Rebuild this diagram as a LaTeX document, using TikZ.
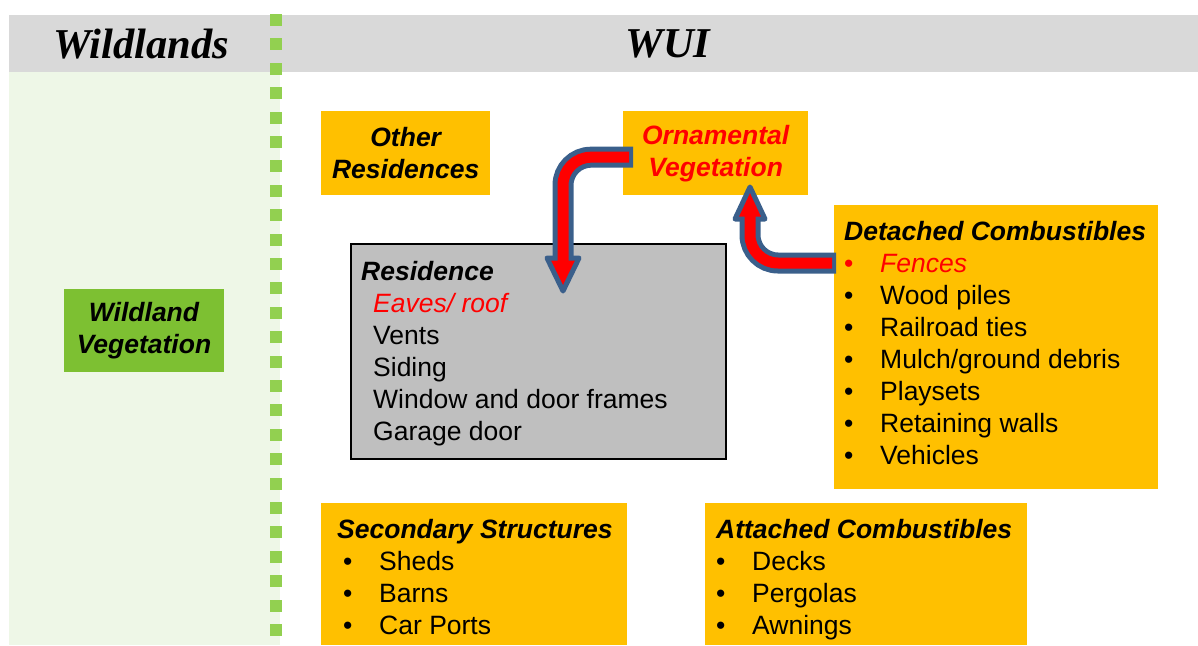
\documentclass[tikz,border=0pt]{standalone}
\usepackage{fontspec}
\setmainfont{Liberation Sans}
\newfontfamily\headfont{Liberation Serif}
\usetikzlibrary{calc}

\definecolor{bandgray}{HTML}{D9D9D9}
\definecolor{wildbg}{HTML}{EEF7E7}
\definecolor{dotgreen}{HTML}{92D050}
\definecolor{vegbox}{HTML}{7DC032}
\definecolor{wuiorange}{HTML}{FFC000}
\definecolor{resgray}{HTML}{BFBFBF}
\definecolor{arrowblue}{HTML}{3A5F8B}
\definecolor{arrowred}{HTML}{FF0000}

\tikzset{
  orangebox/.style={fill=wuiorange, inner sep=0pt, anchor=north west},
  boxfont/.style={font=\fontsize{26.5}{32}\selectfont\bfseries\itshape, align=center},
  listtext/.style={anchor=base west, inner sep=0pt, font=\fontsize{26.5}{32}\selectfont},
  headtext/.style={font=\headfont\fontsize{42.5}{42}\selectfont\bfseries\itshape},
  shaftout/.style={draw=arrowblue, line width=21pt, rounded corners=28pt},
  shaftin/.style={draw=arrowred, line width=11pt, rounded corners=28pt},
  headtri/.style={fill=arrowred, draw=arrowblue, line width=5pt, line join=round},
}
\newcommand\bul[1][0pt]{\hspace*{#1}\makebox[36pt][l]{\textbullet}}

\begin{document}
\begin{tikzpicture}[x=1pt, y={(0,-1pt)}]
			%%%%% START %%%%%
			\useasboundingbox (0,0) rectangle (1198,645);
			
			\fill[bandgray] (9,15) rectangle (1198,72);
			\fill[wildbg] (9,72) rectangle (280,645);
			\foreach \i in {0,...,25}
				\fill[dotgreen] (270,{14+24.4*\i}) rectangle +(12,12);
			
			\node[headtext] (wildlands) at (141,44) {Wildlands};
			\node[headtext] (wui) at (668,44) {WUI};
			
			\node[fill=vegbox, inner sep=0pt, minimum width=160, minimum height=83, boxfont] (wildveg) at (144,330.5) {Wildland\\Vegetation};
			
			\node[orangebox, boxfont, minimum width=169, minimum height=84] (other) at (321,111) {Other\\Residences};
			\node[orangebox, boxfont, minimum width=185, minimum height=84, text=arrowred] (orn) at (623,111) {Ornamental\\Vegetation};
			
			\node[draw=black, line width=1.5pt, fill=resgray, inner sep=0pt, minimum width=375, minimum height=215, anchor=north west] (res) at (350,243) {};
			\node[listtext] (restxt) at (361,280) {\begin{tabular}[t]{@{}l@{}}
				\textbf{\textit{Residence}}\\
				\hspace*{12pt}{\color{arrowred}\itshape Eaves/ roof}\\
				\hspace*{12pt}Vents\\
				\hspace*{12pt}Siding\\
				\hspace*{12pt}Window and door frames\\
				\hspace*{12pt}Garage door
			\end{tabular}};
			
			\node[orangebox, minimum width=324, minimum height=284] (detached) at (834,205) {};
			\node[listtext] (detachedtxt) at (844,240) {\begin{tabular}[t]{@{}l@{}}
				\textbf{\textit{Detached Combustibles}}\\
				{\color{arrowred}\bul\itshape Fences}\\
				\bul Wood piles\\
				\bul Railroad ties\\
				\bul Mulch/ground debris\\
				\bul Playsets\\
				\bul Retaining walls\\
				\bul Vehicles
			\end{tabular}};
			
			\node[orangebox, minimum width=306, minimum height=142] (secondary) at (321,503) {};
			\node[listtext] (secondarytxt) at (337,538) {\begin{tabular}[t]{@{}l@{}}
				\textbf{\textit{Secondary Structures}}\\
				\bul[6pt]Sheds\\
				\bul[6pt]Barns\\
				\bul[6pt]Car Ports
			\end{tabular}};
			
			\node[orangebox, minimum width=322, minimum height=142] (attached) at (705,503) {};
			\node[listtext] (attachedtxt) at (716,538) {\begin{tabular}[t]{@{}l@{}}
				\textbf{\textit{Attached Combustibles}}\\
				\bul Decks\\
				\bul Pergolas\\
				\bul Awnings
			\end{tabular}};
			
			% ornamental vegetation -> residence
			\coordinate (startA) at ($(orn.west)+(10,4)$);
			\coordinate (baseA) at (563,258);
			\coordinate (tipA) at (563,291);
			\draw[shaftout] (startA) -| (baseA);
			\draw[headtri] ($(baseA)+(-16,0)$) -- ($(baseA)+(16,0)$) -- (tipA) -- cycle;
			\draw[shaftin] ($(startA)+(-4,0)$) -| ($(baseA)+(0,3)$);
			
			% detached combustibles -> ornamental vegetation
			\coordinate (startB) at ($(detached.north west)+(2,58)$);
			\coordinate (baseB) at (750,219);
			\coordinate (tipB) at (750,187);
			\draw[shaftout] (startB) -| (baseB);
			\draw[headtri] ($(baseB)+(-15,0)$) -- ($(baseB)+(15,0)$) -- (tipB) -- cycle;
			\draw[shaftin] ($(startB)+(-4,0)$) -| ($(baseB)+(0,-3)$);
			
			%%%%% END %%%%%
\end{tikzpicture}
\end{document}
